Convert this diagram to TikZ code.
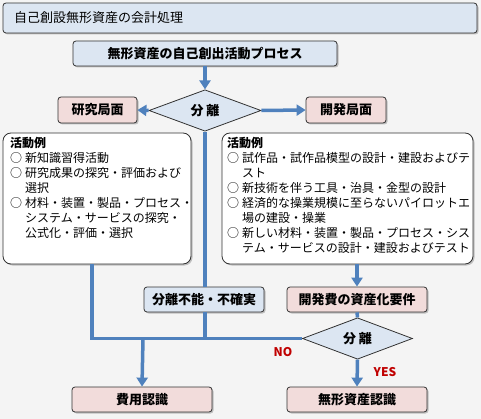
\documentclass[tikz,border=0pt]{standalone}
\usepackage{fontspec}
\setmainfont{Noto Sans CJK JP}
\usepackage{tikz}
\usetikzlibrary{shapes.geometric,arrows.meta,shadows}

\definecolor{bgcol}{RGB}{244,244,244}
\definecolor{boxblue}{RGB}{220,230,242}
\definecolor{boxpink}{RGB}{242,220,219}
\definecolor{linecol}{RGB}{79,129,189}
\definecolor{edgecol}{RGB}{50,50,50}
\definecolor{labred}{RGB}{192,0,0}

\newcommand{\maru}{○\hspace{3pt}}

\begin{document}
\begin{tikzpicture}[x=1pt,y=-1pt,
  shade/.style={drop shadow={shadow xshift=1.5pt,shadow yshift=-1.5pt,opacity=0.45}},
  box/.style={draw=edgecol,line width=0.8pt,rounded corners=3pt,inner sep=0pt,
    font=\fontsize{13}{15}\selectfont\bfseries,shade},
  bluebox/.style={box,fill=boxblue},
  pinkbox/.style={box,fill=boxpink},
  sepdia/.style={diamond,draw=edgecol,line width=0.8pt,fill=boxblue,inner sep=0pt,
    font=\fontsize{13}{15}\selectfont\bfseries},
  actbox/.style={draw=edgecol,line width=0.8pt,rounded corners=8pt,fill=white,shade},
  acttext/.style={anchor=north west,inner sep=0pt,align=left,
    font=\fontsize{12}{15}\selectfont},
  line/.style={draw=linecol,line width=3.5pt},
  arrow/.style={line,-{Triangle[length=9pt,width=11pt]}},
  yesno/.style={text=labred,font=\fontsize{12}{14}\selectfont\bfseries,inner sep=0pt}]

  \fill[bgcol] (0,0) rectangle (481,419);
  \useasboundingbox (0,0) rectangle (481,419);

  % title and process
  \node[bluebox,minimum width=474pt,minimum height=30pt] (title) at (240,18) {};
  \node[anchor=west,inner sep=0pt,font=\fontsize{13}{15}\selectfont] (titletext) at (14,18) {自己創設無形資産の会計処理};
  \node[bluebox,minimum width=264pt,minimum height=25pt] (proc) at (205,53.5) {無形資産の自己創出活動プロセス};

  % first separation
  \node[sepdia,minimum width=112pt,minimum height=41pt] (dia1) at (205,110.5) {分 離};
  \node[pinkbox,minimum width=79pt,minimum height=26pt] (res) at (97.5,110) {研究局面};
  \node[pinkbox,minimum width=80pt,minimum height=26pt] (dev) at (346,110) {開発局面};

  % activity boxes
  \node[actbox,minimum width=188pt,minimum height=131pt] (resbox) at (97,198.5) {};
  \node[acttext] (restext) at (10,137) {\textbf{活動例}\\
    \maru 新知識習得活動\\
    \maru 研究成果の探究・評価および\\
    \phantom{\maru}選択\\
    \maru 材料・装置・製品・プロセス・\\
    \phantom{\maru}システム・サービスの探究・\\
    \phantom{\maru}公式化・評価・選択};
  \node[actbox,minimum width=251pt,minimum height=131pt] (devbox) at (347.5,198.5) {};
  \node[acttext] (devtext) at (227,137) {\textbf{活動例}\\
    \maru 試作品・試作品模型の設計・建設およびテ\\
    \phantom{\maru}スト\\
    \maru 新技術を伴う工具・治具・金型の設計\\
    \maru 経済的な操業規模に至らないパイロットエ\\
    \phantom{\maru}場の建設・操業\\
    \maru 新しい材料・装置・製品・プロセス・シス\\
    \phantom{\maru}テム・サービスの設計・建設およびテスト};

  % lower part
  \node[bluebox,minimum width=120pt,minimum height=25pt] (sep) at (204,299.5) {分離不能・不確実};
  \node[pinkbox,minimum width=140pt,minimum height=25pt] (req) at (357,299.5) {開発費の資産化要件};
  \node[sepdia,minimum width=110pt,minimum height=41pt] (dia2) at (357.5,338.5) {分 離};
  \node[pinkbox,minimum width=140pt,minimum height=25pt] (cost) at (142,399.5) {費用認識};
  \node[pinkbox,minimum width=140pt,minimum height=25pt] (asset) at (357,399.5) {無形資産認識};
  \node[yesno] (no) at (283,352) {NO};
  \node[yesno] (yes) at (385,372) {YES};

  \coordinate (joinL) at (92,338.5);
  \coordinate (joinM) at (143,338.5);

  % connectors
  \draw[arrow] (proc.south) -- (dia1.north);
  \draw[arrow] (dia1.west) -- (res.east);
  \draw[arrow] (dia1.east) -- (dev.west);
  \draw[line] (dia1.south) -- (dia1.south |- sep.north);
  \draw[line] (dia1.south |- sep.south) -- (dia1.south |- joinL);
  \draw[line] (resbox.south -| joinL) -- (joinL) -- (dia2.west);
  \draw[arrow] (joinM) -- (cost.north);
  \draw[arrow] (req.north |- devbox.south) -- (req.north);
  \draw[line] (req.south) -- (dia2.north);
  \draw[arrow] (dia2.south) -- (asset.north);
\end{tikzpicture}
\end{document}
